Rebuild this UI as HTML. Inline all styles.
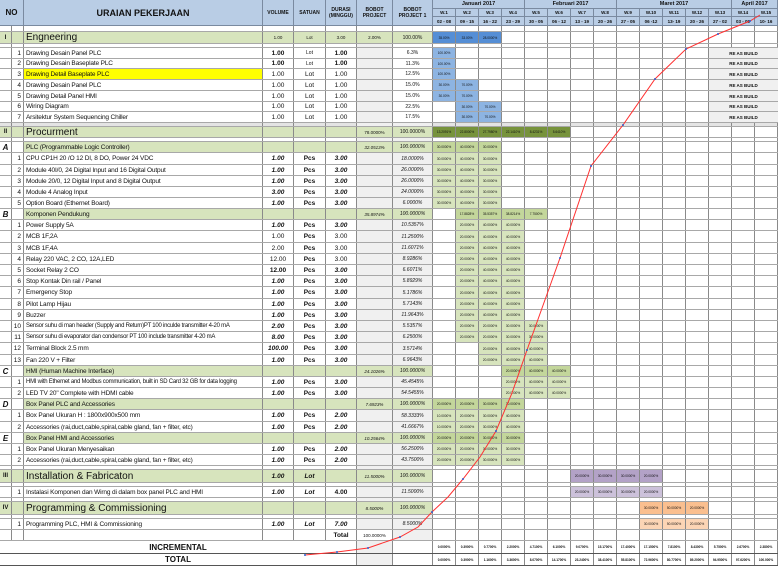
<!DOCTYPE html>
<html><head><meta charset="utf-8">
<style>
*{margin:0;padding:0;box-sizing:border-box}
body{width:778px;height:566px;position:relative;overflow:hidden;background:#fff;font-family:"Liberation Sans",sans-serif;color:#111}
.r{position:absolute;left:0;width:778px;display:flex;border-bottom:1px solid #a8a8a8;font-size:6.5px}
.r>span{display:flex;align-items:center;justify-content:center;border-right:1px solid #8a8a8a;height:100%;white-space:nowrap;overflow:hidden}
.c0{width:12px;font-weight:bold;font-style:italic;font-size:8px}
.c1{width:12px;justify-content:flex-end!important;padding-right:2px}
.c2{width:239px;justify-content:flex-start!important;padding-left:2px;letter-spacing:-0.15px}
.c2.n{font-size:6px;letter-spacing:-0.25px}
.c3{width:31px}.c4{width:32px}.c5{width:31px}
.c6{width:36px;background:#f0f0f0;font-size:4.5px;font-style:italic}
.c7{width:40px;background:#f0f0f0;font-size:5px;font-style:italic}
.wk{width:345px;position:relative;border-right:none!important;background:repeating-linear-gradient(90deg,transparent 0 22px,#8a8a8a 22px 23px)}
.wk b{position:absolute;top:0;height:100%;width:22px;font-weight:normal;font-size:3.2px;display:flex;align-items:center;justify-content:center}
.bi{font-weight:bold;font-style:italic}
.bd{font-weight:bold}
.sec .c0,.sec .c1,.sec .c2,.sec .c3,.sec .c4,.sec .c5,.sec .c6,.sec .c7{background:#d7e4bd}
.sub .c2,.sub .c3,.sub .c4,.sub .c5,.sub .c6,.sub .c7{background:#d7e4bd}
.sec .c2{font-size:10px;letter-spacing:0}
.sec .c0{font-style:normal;font-size:6px}
.h{position:absolute;background:#b9cde5;border-right:1px solid #7a8aa0;border-bottom:1px solid #7a8aa0;display:flex;align-items:center;justify-content:center;font-weight:bold;text-align:center}
.re{position:absolute;left:276px;width:69px;top:0;height:100%;background:#f0f0f0;font-size:4.5px;font-weight:bold;display:flex;align-items:center;justify-content:center}
.bl1{background:#558ed5}.bl2{background:#8db4e2}
.dg{background:#77933c}.mg{background:#c3d69b}.lg{background:#d7e4bd}
.p1{background:#b3a2c7}.p2{background:#ccc1da}
.o1{background:#fabf8f}.o2{background:#fcd5b5}
</style></head><body>

<div class="h" style="left:0;top:0;width:24px;height:26px;font-size:8px">NO</div>
<div class="h" style="left:24px;top:0;width:239px;height:26px;font-size:9px">URAIAN PEKERJAAN</div>
<div class="h" style="left:263px;top:0;width:31px;height:26px;font-size:5px">VOLUME</div>
<div class="h" style="left:294px;top:0;width:32px;height:26px;font-size:5px">SATUAN</div>
<div class="h" style="left:326px;top:0;width:31px;height:26px;font-size:5px">DURASI<br>(MINGGU)</div>
<div class="h" style="left:357px;top:0;width:36px;height:26px;font-size:5px">BOBOT<br>PROJECT</div>
<div class="h" style="left:393px;top:0;width:40px;height:26px;font-size:5px">BOBOT<br>PROJECT 1</div>
<div class="h" style="left:433px;top:0;width:92px;height:9px;font-size:5.5px">Januari 2017</div>
<div class="h" style="left:525px;top:0;width:92px;height:9px;font-size:5.5px">Februari 2017</div>
<div class="h" style="left:617px;top:0;width:115px;height:9px;font-size:5.5px">Maret 2017</div>
<div class="h" style="left:732px;top:0;width:46px;height:9px;font-size:5.5px">April 2017</div>
<div class="h" style="left:433px;top:9px;width:23px;height:8px;font-size:4.5px">W.1</div>
<div class="h" style="left:456px;top:9px;width:23px;height:8px;font-size:4.5px">W.2</div>
<div class="h" style="left:479px;top:9px;width:23px;height:8px;font-size:4.5px">W.3</div>
<div class="h" style="left:502px;top:9px;width:23px;height:8px;font-size:4.5px">W.4</div>
<div class="h" style="left:525px;top:9px;width:23px;height:8px;font-size:4.5px">W.5</div>
<div class="h" style="left:548px;top:9px;width:23px;height:8px;font-size:4.5px">W.6</div>
<div class="h" style="left:571px;top:9px;width:23px;height:8px;font-size:4.5px">W.7</div>
<div class="h" style="left:594px;top:9px;width:23px;height:8px;font-size:4.5px">W.8</div>
<div class="h" style="left:617px;top:9px;width:23px;height:8px;font-size:4.5px">W.9</div>
<div class="h" style="left:640px;top:9px;width:23px;height:8px;font-size:4.5px">W.10</div>
<div class="h" style="left:663px;top:9px;width:23px;height:8px;font-size:4.5px">W.11</div>
<div class="h" style="left:686px;top:9px;width:23px;height:8px;font-size:4.5px">W.12</div>
<div class="h" style="left:709px;top:9px;width:23px;height:8px;font-size:4.5px">W.13</div>
<div class="h" style="left:732px;top:9px;width:23px;height:8px;font-size:4.5px">W.14</div>
<div class="h" style="left:755px;top:9px;width:23px;height:8px;font-size:4.5px">W.15</div>
<div class="h" style="left:433px;top:17px;width:23px;height:9px;font-size:4.5px">02 - 08</div>
<div class="h" style="left:456px;top:17px;width:23px;height:9px;font-size:4.5px">09 - 15</div>
<div class="h" style="left:479px;top:17px;width:23px;height:9px;font-size:4.5px">16 - 22</div>
<div class="h" style="left:502px;top:17px;width:23px;height:9px;font-size:4.5px">23 - 29</div>
<div class="h" style="left:525px;top:17px;width:23px;height:9px;font-size:4.5px">30 - 05</div>
<div class="h" style="left:548px;top:17px;width:23px;height:9px;font-size:4.5px">06 - 12</div>
<div class="h" style="left:571px;top:17px;width:23px;height:9px;font-size:4.5px">13 - 19</div>
<div class="h" style="left:594px;top:17px;width:23px;height:9px;font-size:4.5px">20 - 26</div>
<div class="h" style="left:617px;top:17px;width:23px;height:9px;font-size:4.5px">27 - 05</div>
<div class="h" style="left:640px;top:17px;width:23px;height:9px;font-size:4.5px">06 -12</div>
<div class="h" style="left:663px;top:17px;width:23px;height:9px;font-size:4.5px">13- 19</div>
<div class="h" style="left:686px;top:17px;width:23px;height:9px;font-size:4.5px">20 - 26</div>
<div class="h" style="left:709px;top:17px;width:23px;height:9px;font-size:4.5px">27 - 02</div>
<div class="h" style="left:732px;top:17px;width:23px;height:9px;font-size:4.5px">03 - 09</div>
<div class="h" style="left:755px;top:17px;width:23px;height:9px;font-size:4.5px">10- 16</div>

<div class="r" style="top:26px;height:6px"><span class="c0"></span><span class="c1"></span><span class="c2"></span><span class="c3"></span><span class="c4"></span><span class="c5"></span><span class="c6" style="background:#fff"></span><span class="c7" style="background:#fff"></span><span class="wk"></span></div>

<div class="r sec" style="top:32px;height:12px"><span class="c0">I</span><span class="c1"></span><span class="c2">Engneering</span><span class="c3" style="font-size:4.5px">1.00</span><span class="c4" style="font-size:4.5px">Lot</span><span class="c5" style="font-size:4.5px">3.00</span><span class="c6" style="font-style:normal">2.00%</span><span class="c7" style="font-style:normal">100.00%</span><span class="wk"><b class="bl1" style="left:0">35.00%</b><b class="bl1" style="left:23px">33.00%</b><b class="bl1" style="left:46px">28.0000%</b></span></div>
<div class="r" style="top:44px;height:4px"><span class="c0"></span><span class="c1"></span><span class="c2"></span><span class="c3"></span><span class="c4"></span><span class="c5"></span><span class="c6"></span><span class="c7" style="background:#fff"></span><span class="wk"></span></div>

<div class="r" style="top:48px;height:11px"><span class="c0"></span><span class="c1">1</span><span class="c2">Drawing Desain Panel PLC</span><span class="c3 bd">1.00</span><span class="c4" style="font-size:5px">Lot</span><span class="c5 bd">1.00</span><span class="c6"></span><span class="c7" style="background:#fff;font-style:normal">6.3%</span><span class="wk"><b class="bl2" style="left:0">100.00%</b><span class="re">RE AS BUILD</span></span></div>
<div class="r" style="top:59px;height:10px"><span class="c0"></span><span class="c1">2</span><span class="c2">Drawing Desain Baseplate PLC</span><span class="c3 bd">1.00</span><span class="c4" style="font-size:5px">Lot</span><span class="c5 bd">1.00</span><span class="c6"></span><span class="c7" style="background:#fff;font-style:normal">11.3%</span><span class="wk"><b class="bl2" style="left:0">100.00%</b><span class="re">RE AS BUILD</span></span></div>
<div class="r" style="top:69px;height:11px"><span class="c0"></span><span class="c1">3</span><span class="c2" style="background:#ffff00">Drawing Detail Baseplate PLC</span><span class="c3">1.00</span><span class="c4">Lot</span><span class="c5">1.00</span><span class="c6"></span><span class="c7" style="background:#fff;font-style:normal">12.5%</span><span class="wk"><b class="bl2" style="left:0">100.00%</b><span class="re">RE AS BUILD</span></span></div>
<div class="r" style="top:80px;height:11px"><span class="c0"></span><span class="c1">4</span><span class="c2">Drawing Desain Panel PLC</span><span class="c3">1.00</span><span class="c4">Lot</span><span class="c5">1.00</span><span class="c6"></span><span class="c7" style="background:#fff;font-style:normal">15.0%</span><span class="wk"><b class="bl2" style="left:0">30.00%</b><b class="bl2" style="left:23px">70.00%</b><span class="re">RE AS BUILD</span></span></div>
<div class="r" style="top:91px;height:11px"><span class="c0"></span><span class="c1">5</span><span class="c2">Drawing Detail Panel HMI</span><span class="c3">1.00</span><span class="c4">Lot</span><span class="c5">1.00</span><span class="c6"></span><span class="c7" style="background:#fff;font-style:normal">15.0%</span><span class="wk"><b class="bl2" style="left:0">30.00%</b><b class="bl2" style="left:23px">70.00%</b><span class="re">RE AS BUILD</span></span></div>
<div class="r" style="top:102px;height:10px"><span class="c0"></span><span class="c1">6</span><span class="c2">Wiring Diagram</span><span class="c3">1.00</span><span class="c4">Lot</span><span class="c5">1.00</span><span class="c6"></span><span class="c7" style="background:#fff;font-style:normal">22.5%</span><span class="wk"><b class="bl2" style="left:23px">30.00%</b><b class="bl2" style="left:46px">70.00%</b><span class="re">RE AS BUILD</span></span></div>
<div class="r" style="top:112px;height:11px"><span class="c0"></span><span class="c1">7</span><span class="c2">Arsitektur System Sequencing Chiller</span><span class="c3">1.00</span><span class="c4">Lot</span><span class="c5">1.00</span><span class="c6"></span><span class="c7" style="background:#fff;font-style:normal">17.5%</span><span class="wk"><b class="bl2" style="left:23px">30.00%</b><b class="bl2" style="left:46px">70.00%</b><span class="re">RE AS BUILD</span></span></div>
<div class="r" style="top:123px;height:4px;background:#e4e4e4"><span class="c0"></span><span class="c1"></span><span class="c2"></span><span class="c3"></span><span class="c4"></span><span class="c5"></span><span class="c6"></span><span class="c7"></span><span class="wk"></span></div>

<div class="r sec" style="top:127px;height:11px"><span class="c0">II</span><span class="c1"></span><span class="c2">Procurment</span><span class="c3"></span><span class="c4"></span><span class="c5"></span><span class="c6" style="font-style:normal">78.0000%</span><span class="c7" style="font-style:normal">100.0000%</span><span class="wk"><b class="dg" style="left:0">13.2091%</b><b class="dg" style="left:23px">22.8000%</b><b class="dg" style="left:46px">27.7980%</b><b class="dg" style="left:69px">22.1410%</b><b class="dg" style="left:92px">8.4231%</b><b class="dg" style="left:115px">5.6410%</b></span></div>
<div class="r" style="top:138px;height:4px"><span class="c0"></span><span class="c1"></span><span class="c2"></span><span class="c3"></span><span class="c4"></span><span class="c5"></span><span class="c6"></span><span class="c7"></span><span class="wk"></span></div>

<div class="r sub" style="top:142px;height:11px"><span class="c0">A</span><span class="c1"></span><span class="c2">PLC (Programmable Logic Controller)</span><span class="c3"></span><span class="c4"></span><span class="c5"></span><span class="c6">32.0513%</span><span class="c7">100.0000%</span><span class="wk"><b class="mg" style="left:0">30.0000%</b><b class="mg" style="left:23px">40.0000%</b><b class="mg" style="left:46px">30.0000%</b></span></div>
<div class="r" style="top:153px;height:12px"><span class="c0"></span><span class="c1">1</span><span class="c2">CPU CP1H 20 /O 12 DI, 8 DO, Power 24 VDC</span><span class="c3 bi">1.00</span><span class="c4 bd">Pcs</span><span class="c5 bi">3.00</span><span class="c6"></span><span class="c7">18.0000%</span><span class="wk"><b class="lg" style="left:0">30.0000%</b><b class="lg" style="left:23px">40.0000%</b><b class="lg" style="left:46px">30.0000%</b></span></div>
<div class="r" style="top:165px;height:11px"><span class="c0"></span><span class="c1">2</span><span class="c2">Module 40I/0, 24 Digital Input and 16 Digital Output</span><span class="c3 bi">1.00</span><span class="c4 bd">Pcs</span><span class="c5 bi">3.00</span><span class="c6"></span><span class="c7">26.0000%</span><span class="wk"><b class="lg" style="left:0">30.0000%</b><b class="lg" style="left:23px">40.0000%</b><b class="lg" style="left:46px">30.0000%</b></span></div>
<div class="r" style="top:176px;height:11px"><span class="c0"></span><span class="c1">3</span><span class="c2">Module 20/0, 12 Digital Input and 8 Digital Output</span><span class="c3 bi">1.00</span><span class="c4 bd">Pcs</span><span class="c5 bi">3.00</span><span class="c6"></span><span class="c7">26.0000%</span><span class="wk"><b class="lg" style="left:0">30.0000%</b><b class="lg" style="left:23px">40.0000%</b><b class="lg" style="left:46px">30.0000%</b></span></div>
<div class="r" style="top:187px;height:11px"><span class="c0"></span><span class="c1">4</span><span class="c2">Module 4 Analog Input</span><span class="c3 bi">3.00</span><span class="c4 bd">Pcs</span><span class="c5 bi">3.00</span><span class="c6"></span><span class="c7">24.0000%</span><span class="wk"><b class="lg" style="left:0">30.0000%</b><b class="lg" style="left:23px">40.0000%</b><b class="lg" style="left:46px">30.0000%</b></span></div>
<div class="r" style="top:198px;height:11px"><span class="c0"></span><span class="c1">5</span><span class="c2">Option Board (Ethernet Board)</span><span class="c3 bi">1.00</span><span class="c4 bd">Pcs</span><span class="c5 bi">3.00</span><span class="c6"></span><span class="c7">6.0000%</span><span class="wk"><b class="lg" style="left:0">30.0000%</b><b class="lg" style="left:23px">40.0000%</b><b class="lg" style="left:46px">30.0000%</b></span></div>

<div class="r sub" style="top:209px;height:11px"><span class="c0">B</span><span class="c1"></span><span class="c2">Komponen Pendukung</span><span class="c3"></span><span class="c4"></span><span class="c5"></span><span class="c6">35.8974%</span><span class="c7">100.0000%</span><span class="wk"><b class="mg" style="left:23px">17.8828%</b><b class="mg" style="left:46px">35.5357%</b><b class="mg" style="left:69px">38.8214%</b><b class="mg" style="left:92px">7.7500%</b></span></div>
<div class="r" style="top:220px;height:11px"><span class="c0"></span><span class="c1">1</span><span class="c2">Power Supply 5A</span><span class="c3 bi">1.00</span><span class="c4 bd">Pcs</span><span class="c5 bi">3.00</span><span class="c6"></span><span class="c7">10.5357%</span><span class="wk"><b class="lg" style="left:23px">20.0000%</b><b class="lg" style="left:46px">40.0000%</b><b class="lg" style="left:69px">40.0000%</b></span></div>
<div class="r" style="top:231px;height:12px"><span class="c0"></span><span class="c1">2</span><span class="c2">MCB 1F,2A</span><span class="c3">1.00</span><span class="c4 bd">Pcs</span><span class="c5">3.00</span><span class="c6"></span><span class="c7">11.2500%</span><span class="wk"><b class="lg" style="left:23px">20.0000%</b><b class="lg" style="left:46px">40.0000%</b><b class="lg" style="left:69px">40.0000%</b></span></div>
<div class="r" style="top:243px;height:11px"><span class="c0"></span><span class="c1">3</span><span class="c2">MCB 1F,4A</span><span class="c3">2.00</span><span class="c4 bd">Pcs</span><span class="c5">3.00</span><span class="c6"></span><span class="c7">11.6071%</span><span class="wk"><b class="lg" style="left:23px">20.0000%</b><b class="lg" style="left:46px">40.0000%</b><b class="lg" style="left:69px">40.0000%</b></span></div>
<div class="r" style="top:254px;height:11px"><span class="c0"></span><span class="c1">4</span><span class="c2">Relay 220 VAC, 2 CO, 12A,LED</span><span class="c3">12.00</span><span class="c4 bd">Pcs</span><span class="c5">3.00</span><span class="c6"></span><span class="c7">8.9286%</span><span class="wk"><b class="lg" style="left:23px">20.0000%</b><b class="lg" style="left:46px">40.0000%</b><b class="lg" style="left:69px">40.0000%</b></span></div>
<div class="r" style="top:265px;height:11px"><span class="c0"></span><span class="c1">5</span><span class="c2">Socket Relay 2 CO</span><span class="c3 bd">12.00</span><span class="c4 bd">Pcs</span><span class="c5 bi">3.00</span><span class="c6"></span><span class="c7">6.6071%</span><span class="wk"><b class="lg" style="left:23px">20.0000%</b><b class="lg" style="left:46px">40.0000%</b><b class="lg" style="left:69px">40.0000%</b></span></div>
<div class="r" style="top:276px;height:11px"><span class="c0"></span><span class="c1">6</span><span class="c2">Stop Kontak Din rail / Panel</span><span class="c3 bi">1.00</span><span class="c4 bd">Pcs</span><span class="c5 bi">3.00</span><span class="c6"></span><span class="c7">5.8929%</span><span class="wk"><b class="lg" style="left:23px">20.0000%</b><b class="lg" style="left:46px">40.0000%</b><b class="lg" style="left:69px">40.0000%</b></span></div>
<div class="r" style="top:287px;height:12px"><span class="c0"></span><span class="c1">7</span><span class="c2">Emergency Stop</span><span class="c3 bi">1.00</span><span class="c4 bd">Pcs</span><span class="c5 bi">3.00</span><span class="c6"></span><span class="c7">5.1786%</span><span class="wk"><b class="lg" style="left:23px">20.0000%</b><b class="lg" style="left:46px">40.0000%</b><b class="lg" style="left:69px">40.0000%</b></span></div>
<div class="r" style="top:299px;height:11px"><span class="c0"></span><span class="c1">8</span><span class="c2">Pilot Lamp Hijau</span><span class="c3 bi">1.00</span><span class="c4 bd">Pcs</span><span class="c5 bi">3.00</span><span class="c6"></span><span class="c7">5.7143%</span><span class="wk"><b class="lg" style="left:23px">20.0000%</b><b class="lg" style="left:46px">40.0000%</b><b class="lg" style="left:69px">40.0000%</b></span></div>
<div class="r" style="top:310px;height:11px"><span class="c0"></span><span class="c1">9</span><span class="c2">Buzzer</span><span class="c3 bi">1.00</span><span class="c4 bd">Pcs</span><span class="c5 bi">3.00</span><span class="c6"></span><span class="c7">11.9643%</span><span class="wk"><b class="lg" style="left:23px">20.0000%</b><b class="lg" style="left:46px">40.0000%</b><b class="lg" style="left:69px">40.0000%</b></span></div>
<div class="r" style="top:321px;height:11px"><span class="c0"></span><span class="c1">10</span><span class="c2 n">Sensor suhu di man header (Supply and Return)PT 100 inculde transmitter 4-20 mA</span><span class="c3 bi">2.00</span><span class="c4 bd">Pcs</span><span class="c5 bi">3.00</span><span class="c6"></span><span class="c7">5.5357%</span><span class="wk"><b class="lg" style="left:23px">20.0000%</b><b class="lg" style="left:46px">20.0000%</b><b class="lg" style="left:69px">30.0000%</b><b class="lg" style="left:92px">30.0000%</b></span></div>
<div class="r" style="top:332px;height:11px"><span class="c0"></span><span class="c1">11</span><span class="c2 n">Sensor suhu di evaporator dan condensor PT 100 include transmitter 4-20 mA</span><span class="c3 bi">8.00</span><span class="c4 bd">Pcs</span><span class="c5 bi">3.00</span><span class="c6"></span><span class="c7">6.2500%</span><span class="wk"><b class="lg" style="left:23px">20.0000%</b><b class="lg" style="left:46px">20.0000%</b><b class="lg" style="left:69px">30.0000%</b><b class="lg" style="left:92px">30.0000%</b></span></div>
<div class="r" style="top:343px;height:12px"><span class="c0"></span><span class="c1">12</span><span class="c2">Terminal Block 2.5 mm</span><span class="c3 bi">100.00</span><span class="c4 bd">Pcs</span><span class="c5 bi">3.00</span><span class="c6"></span><span class="c7">3.5714%</span><span class="wk"><b class="lg" style="left:46px">20.0000%</b><b class="lg" style="left:69px">40.0000%</b><b class="lg" style="left:92px">40.0000%</b></span></div>
<div class="r" style="top:355px;height:11px"><span class="c0"></span><span class="c1">13</span><span class="c2">Fan 220 V + Filter</span><span class="c3 bi">1.00</span><span class="c4 bd">Pcs</span><span class="c5 bi">3.00</span><span class="c6"></span><span class="c7">6.9643%</span><span class="wk"><b class="lg" style="left:46px">20.0000%</b><b class="lg" style="left:69px">40.0000%</b><b class="lg" style="left:92px">40.0000%</b></span></div>

<div class="r sub" style="top:366px;height:11px"><span class="c0">C</span><span class="c1"></span><span class="c2">HMI (Human Machine Interface)</span><span class="c3"></span><span class="c4"></span><span class="c5"></span><span class="c6">24.1026%</span><span class="c7">100.0000%</span><span class="wk"><b class="mg" style="left:69px">20.0000%</b><b class="mg" style="left:92px">40.0000%</b><b class="mg" style="left:115px">40.0000%</b></span></div>
<div class="r" style="top:377px;height:11px"><span class="c0"></span><span class="c1">1</span><span class="c2 n">HMI with Ethernet and Modbus communication, built in SD Card 32 GB for data logging</span><span class="c3 bi">1.00</span><span class="c4 bd">Pcs</span><span class="c5 bi">3.00</span><span class="c6"></span><span class="c7">45.4545%</span><span class="wk"><b class="lg" style="left:69px">20.0000%</b><b class="lg" style="left:92px">40.0000%</b><b class="lg" style="left:115px">40.0000%</b></span></div>
<div class="r" style="top:388px;height:11px"><span class="c0"></span><span class="c1">2</span><span class="c2">LED TV 20" Complete with HDMI cable</span><span class="c3 bi">1.00</span><span class="c4 bd">Pcs</span><span class="c5 bi">3.00</span><span class="c6"></span><span class="c7">54.5455%</span><span class="wk"><b class="lg" style="left:69px">20.0000%</b><b class="lg" style="left:92px">40.0000%</b><b class="lg" style="left:115px">40.0000%</b></span></div>

<div class="r sub" style="top:399px;height:11px"><span class="c0">D</span><span class="c1"></span><span class="c2">Box Panel PLC and Accessories</span><span class="c3"></span><span class="c4"></span><span class="c5"></span><span class="c6">7.6923%</span><span class="c7">100.0000%</span><span class="wk"><b class="mg" style="left:0">20.0000%</b><b class="mg" style="left:23px">20.0000%</b><b class="mg" style="left:46px">30.0000%</b><b class="mg" style="left:69px">30.0000%</b></span></div>
<div class="r" style="top:410px;height:12px"><span class="c0"></span><span class="c1">1</span><span class="c2">Box Panel Ukuran H : 1800x900x500 mm</span><span class="c3 bi">1.00</span><span class="c4 bd">Pcs</span><span class="c5 bi">2.00</span><span class="c6"></span><span class="c7">58.3333%</span><span class="wk"><b class="lg" style="left:0">10.0000%</b><b class="lg" style="left:23px">20.0000%</b><b class="lg" style="left:46px">30.0000%</b><b class="lg" style="left:69px">40.0000%</b></span></div>
<div class="r" style="top:422px;height:11px"><span class="c0"></span><span class="c1">2</span><span class="c2">Accessories (rai,duct,cable,spiral,cable gland, fan + filter, etc)</span><span class="c3 bi">1.00</span><span class="c4 bd">Pcs</span><span class="c5 bi">2.00</span><span class="c6"></span><span class="c7">41.6667%</span><span class="wk"><b class="lg" style="left:0">10.0000%</b><b class="lg" style="left:23px">20.0000%</b><b class="lg" style="left:46px">30.0000%</b><b class="lg" style="left:69px">40.0000%</b></span></div>

<div class="r sub" style="top:433px;height:11px"><span class="c0">E</span><span class="c1"></span><span class="c2">Box Panel HMI and Accessories</span><span class="c3"></span><span class="c4"></span><span class="c5"></span><span class="c6">10.2564%</span><span class="c7">100.0000%</span><span class="wk"><b class="mg" style="left:0">20.0000%</b><b class="mg" style="left:23px">20.0000%</b><b class="mg" style="left:46px">30.0000%</b><b class="mg" style="left:69px">30.0000%</b></span></div>
<div class="r" style="top:444px;height:11px"><span class="c0"></span><span class="c1">1</span><span class="c2">Box Panel Ukuran Menyesaikan</span><span class="c3 bi">1.00</span><span class="c4 bd">Pcs</span><span class="c5 bi">2.00</span><span class="c6"></span><span class="c7">56.2500%</span><span class="wk"><b class="lg" style="left:0">20.0000%</b><b class="lg" style="left:23px">20.0000%</b><b class="lg" style="left:46px">30.0000%</b><b class="lg" style="left:69px">30.0000%</b></span></div>
<div class="r" style="top:455px;height:11px"><span class="c0"></span><span class="c1">2</span><span class="c2">Accessories (rai,duct,cable,spiral,cable gland, fan + filter, etc)</span><span class="c3 bi">1.00</span><span class="c4 bd">Pcs</span><span class="c5 bi">2.00</span><span class="c6"></span><span class="c7">43.7500%</span><span class="wk"><b class="lg" style="left:0">20.0000%</b><b class="lg" style="left:23px">20.0000%</b><b class="lg" style="left:46px">30.0000%</b><b class="lg" style="left:69px">30.0000%</b></span></div>
<div class="r" style="top:466px;height:4px"><span class="c0"></span><span class="c1"></span><span class="c2"></span><span class="c3"></span><span class="c4"></span><span class="c5"></span><span class="c6"></span><span class="c7"></span><span class="wk"></span></div>

<div class="r sec" style="top:470px;height:13px"><span class="c0">III</span><span class="c1"></span><span class="c2">Installation &amp; Fabricaton</span><span class="c3 bi">1.00</span><span class="c4 bi">Lot</span><span class="c5"></span><span class="c6">11.5000%</span><span class="c7">100.0000%</span><span class="wk"><b class="p1" style="left:138px">20.0000%</b><b class="p1" style="left:161px">30.0000%</b><b class="p1" style="left:184px">30.0000%</b><b class="p1" style="left:207px">20.0000%</b></span></div>
<div class="r" style="top:483px;height:4px"><span class="c0"></span><span class="c1"></span><span class="c2"></span><span class="c3"></span><span class="c4"></span><span class="c5"></span><span class="c6"></span><span class="c7"></span><span class="wk"></span></div>
<div class="r" style="top:487px;height:11px"><span class="c0"></span><span class="c1">1</span><span class="c2">Instalasi Komponen dan Wirng di dalam box panel PLC and HMI</span><span class="c3 bi">1.00</span><span class="c4 bi">Lot</span><span class="c5 bd">4.00</span><span class="c6"></span><span class="c7">11.5000%</span><span class="wk"><b class="p2" style="left:138px">20.0000%</b><b class="p2" style="left:161px">30.0000%</b><b class="p2" style="left:184px">30.0000%</b><b class="p2" style="left:207px">20.0000%</b></span></div>
<div class="r" style="top:498px;height:4px"><span class="c0"></span><span class="c1"></span><span class="c2"></span><span class="c3"></span><span class="c4"></span><span class="c5"></span><span class="c6"></span><span class="c7"></span><span class="wk"></span></div>

<div class="r sec" style="top:502px;height:13px"><span class="c0">IV</span><span class="c1"></span><span class="c2">Programming &amp; Commissioning</span><span class="c3"></span><span class="c4"></span><span class="c5"></span><span class="c6">8.5000%</span><span class="c7">100.0000%</span><span class="wk"><b class="o1" style="left:207px">30.0000%</b><b class="o1" style="left:230px">50.0000%</b><b class="o1" style="left:253px">20.0000%</b></span></div>
<div class="r" style="top:515px;height:4px"><span class="c0"></span><span class="c1"></span><span class="c2"></span><span class="c3"></span><span class="c4"></span><span class="c5"></span><span class="c6"></span><span class="c7"></span><span class="wk"></span></div>
<div class="r" style="top:519px;height:11px"><span class="c0"></span><span class="c1">1</span><span class="c2">Programming PLC, HMI &amp; Commissioning</span><span class="c3 bi">1.00</span><span class="c4 bi">Lot</span><span class="c5 bi">7.00</span><span class="c6"></span><span class="c7">8.5000%</span><span class="wk"><b class="o2" style="left:207px">30.0000%</b><b class="o2" style="left:230px">50.0000%</b><b class="o2" style="left:253px">20.0000%</b></span></div>
<div class="r" style="top:530px;height:11px"><span class="c0"></span><span class="c1"></span><span class="c2"></span><span class="c3"></span><span class="c4"></span><span class="c5 bd">Total</span><span class="c6" style="background:#fff;font-style:normal">100.0000%</span><span class="c7"></span><span class="wk"></span></div>

<div class="r" style="top:541px;height:13px;border-bottom:1px solid #555"><span style="width:357px;font-weight:bold;font-size:8px">INCREMENTAL</span><span class="c6"></span><span class="c7" style="background:#fff"></span><span class="wk"><b style="left:0;font-weight:bold">0.0000%</b><b style="left:23px;font-weight:bold">0.3900%</b><b style="left:46px;font-weight:bold">0.7700%</b><b style="left:69px;font-weight:bold">2.2000%</b><b style="left:92px;font-weight:bold">4.7100%</b><b style="left:115px;font-weight:bold">6.1000%</b><b style="left:138px;font-weight:bold">9.0700%</b><b style="left:161px;font-weight:bold">15.1700%</b><b style="left:184px;font-weight:bold">17.4000%</b><b style="left:207px;font-weight:bold">17.1500%</b><b style="left:230px;font-weight:bold">7.8100%</b><b style="left:253px;font-weight:bold">8.4300%</b><b style="left:276px;font-weight:bold">5.7500%</b><b style="left:299px;font-weight:bold">2.6700%</b><b style="left:322px;font-weight:bold">2.3800%</b></span></div>
<div class="r" style="top:554px;height:12px;border-bottom:1px solid #555"><span style="width:357px;font-weight:bold;font-size:8px">TOTAL</span><span class="c6"></span><span class="c7" style="background:#fff"></span><span class="wk"><b style="left:0;font-weight:bold">0.0000%</b><b style="left:23px;font-weight:bold">0.3900%</b><b style="left:46px;font-weight:bold">1.1600%</b><b style="left:69px;font-weight:bold">3.3600%</b><b style="left:92px;font-weight:bold">8.0700%</b><b style="left:115px;font-weight:bold">14.1700%</b><b style="left:138px;font-weight:bold">23.2400%</b><b style="left:161px;font-weight:bold">38.4100%</b><b style="left:184px;font-weight:bold">55.8100%</b><b style="left:207px;font-weight:bold">72.9600%</b><b style="left:230px;font-weight:bold">80.7700%</b><b style="left:253px;font-weight:bold">89.2000%</b><b style="left:276px;font-weight:bold">94.9500%</b><b style="left:299px;font-weight:bold">97.6200%</b><b style="left:322px;font-weight:bold">100.000%</b></span></div>

<svg style="position:absolute;left:0;top:0" width="778" height="566" viewBox="0 0 778 566">
<polyline fill="none" stroke="#ff3030" stroke-width="1" points="305,555 337,552 368,548 400,537 418,527 432,512 448,497 463,479 480,457 496,431 512,393 527,350 560,258 591,166 623,125 655,79 686,49 718,34 750,21 760,15"/>
<g fill="#3060d0"><circle cx="305" cy="555" r="1"/><circle cx="337" cy="552" r="1"/><circle cx="368" cy="548" r="1"/><circle cx="400" cy="537" r="1"/><circle cx="432" cy="512" r="1"/><circle cx="463" cy="479" r="1"/><circle cx="496" cy="431" r="1"/><circle cx="527" cy="350" r="1"/><circle cx="560" cy="258" r="1"/><circle cx="591" cy="166" r="1"/><circle cx="623" cy="125" r="1"/><circle cx="655" cy="79" r="1"/><circle cx="686" cy="49" r="1"/><circle cx="718" cy="34" r="1"/><circle cx="750" cy="21" r="1"/></g>
</svg>
</body></html>
